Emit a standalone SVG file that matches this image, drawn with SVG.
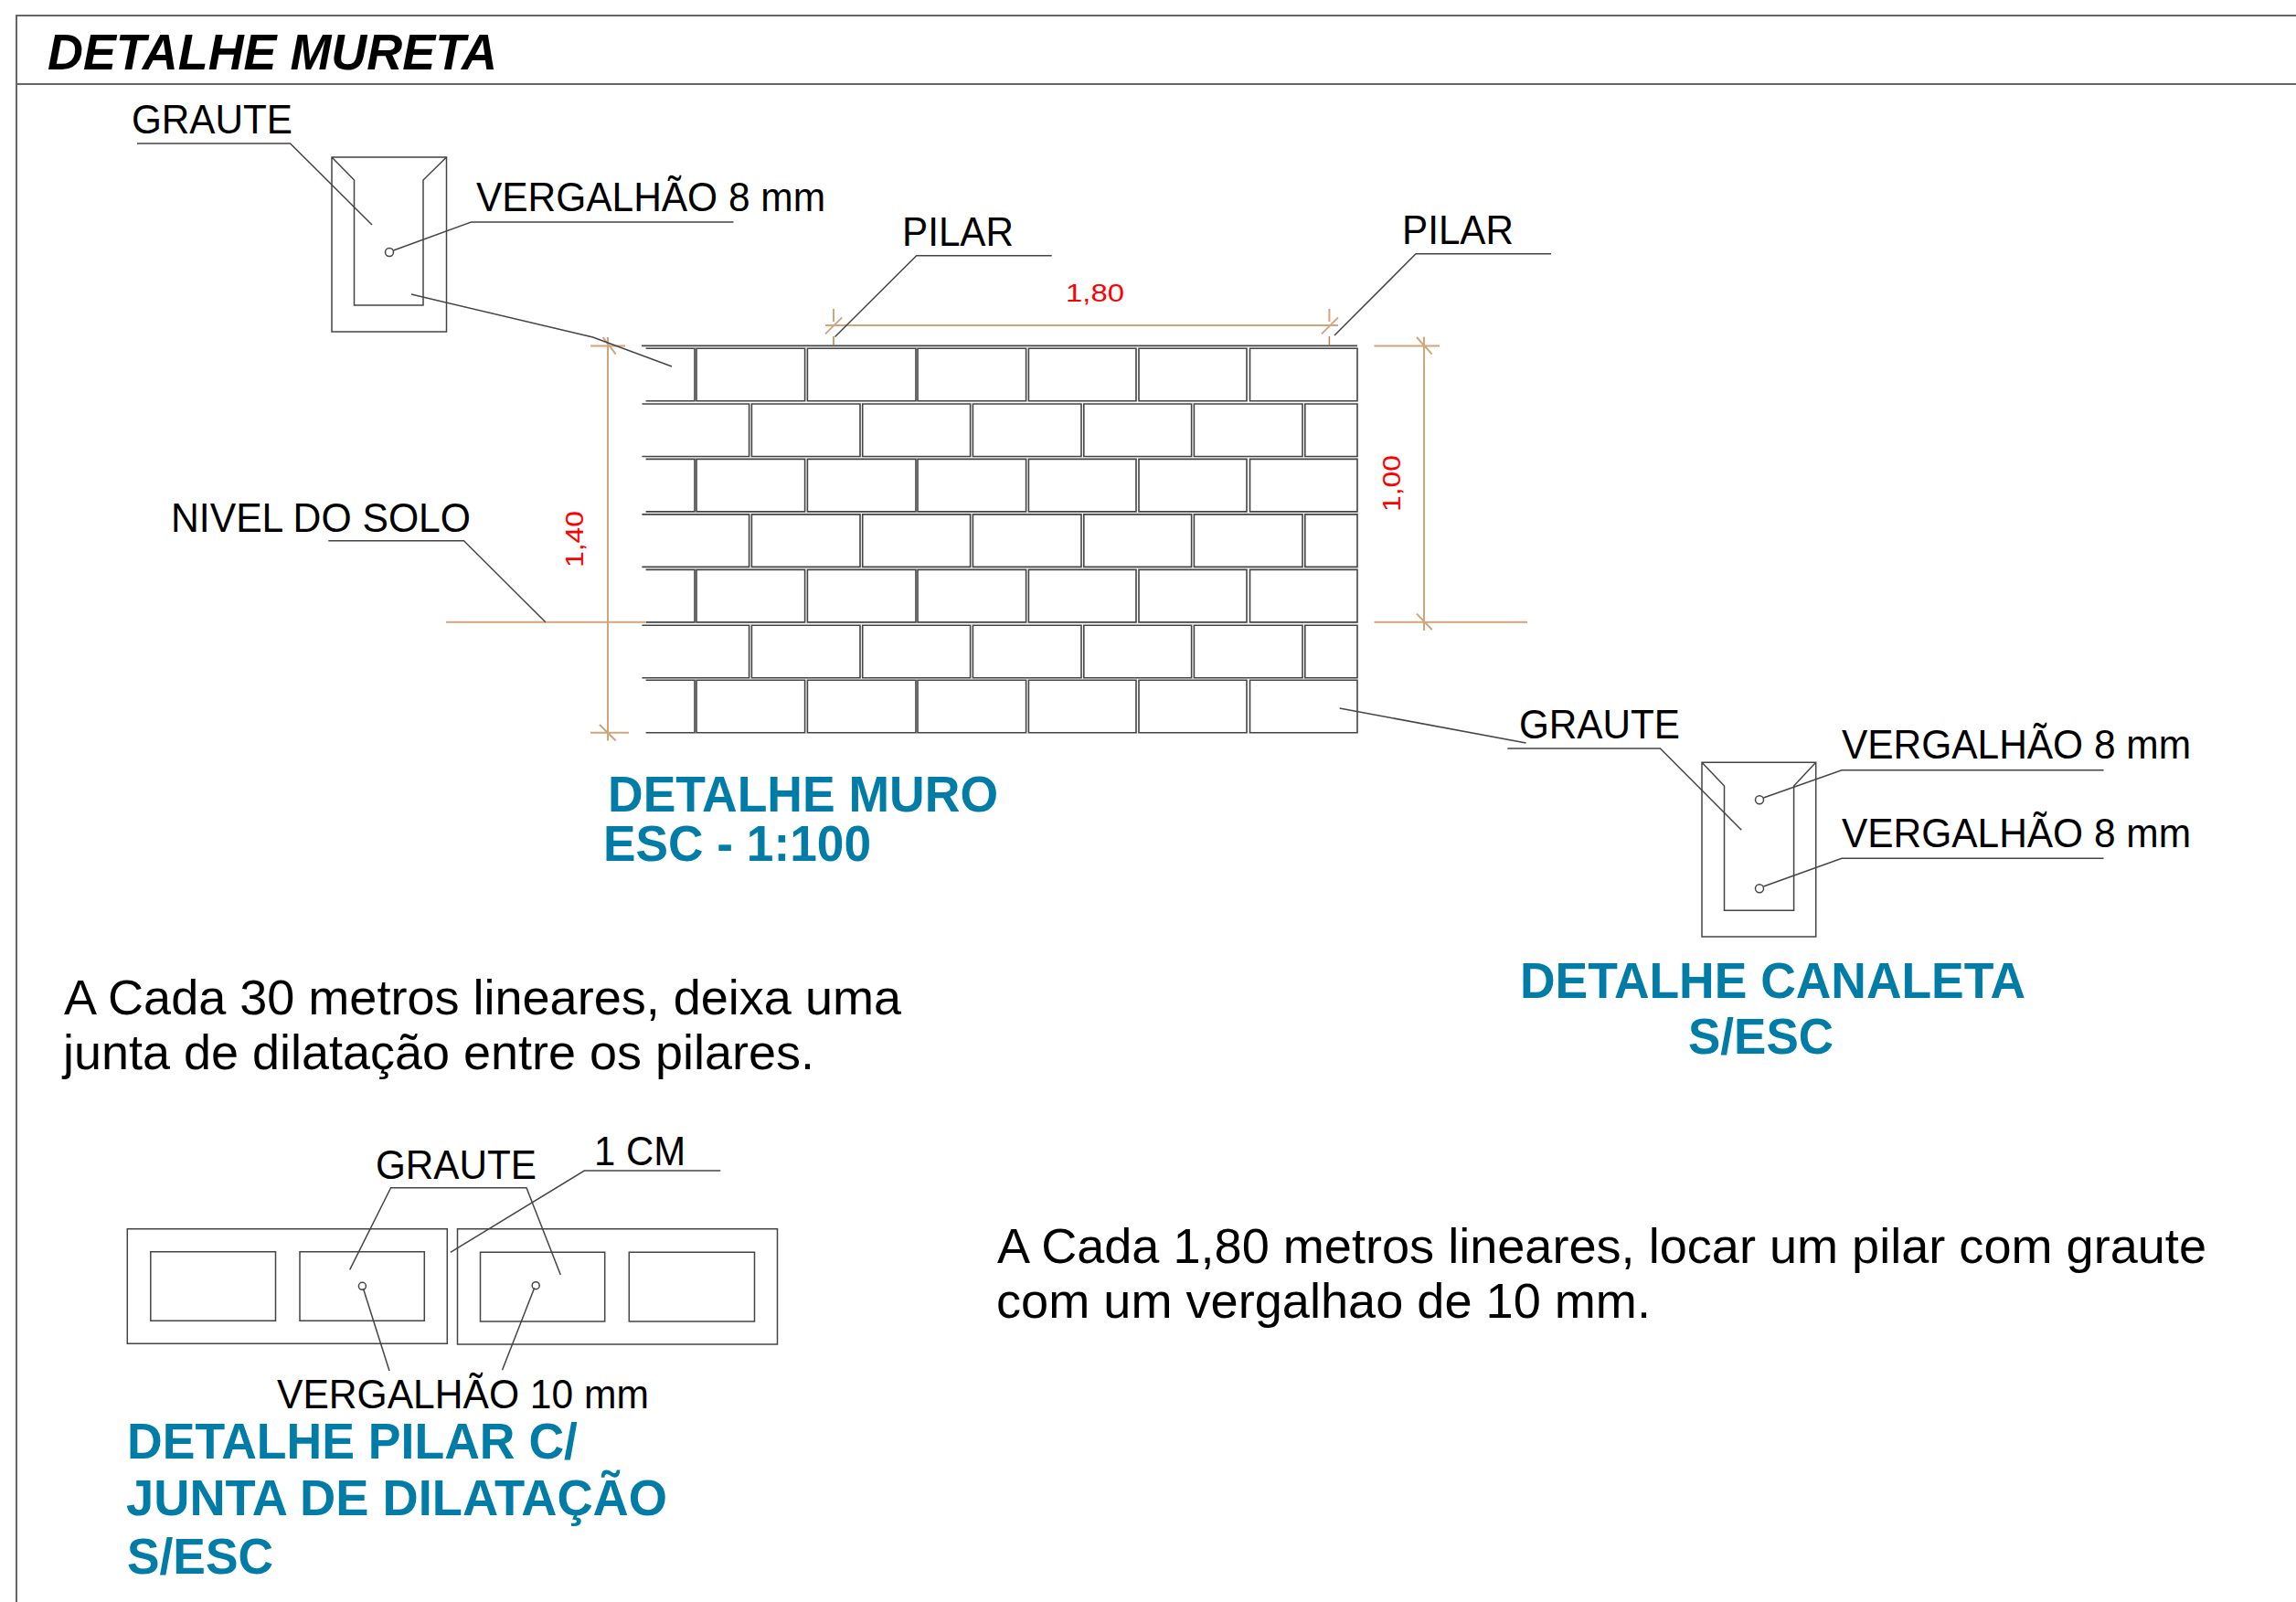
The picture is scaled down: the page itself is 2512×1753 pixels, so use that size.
<svg xmlns="http://www.w3.org/2000/svg" xmlns:xlink="http://www.w3.org/1999/xlink" width="2512" height="1753" viewBox="0 0 2512 1753">
<style>
text{font-family:"Liberation Sans",Arial,sans-serif;fill:#000}
.l{font-size:44px}
.b{font-size:54px}
.t{font-size:55px;font-weight:700;fill:#007ca6}
.d{font-size:27px;fill:#f00}
.h{font-size:56px;font-weight:700;font-style:italic}
.k,.f,.w,.o,.m{fill:none}
.k{stroke:#444;stroke-width:1.5}
.f{stroke:#666;stroke-width:2}
.w{stroke:#444;stroke-width:1.6}
.o{stroke:#cfa67b;stroke-width:2}
.m{stroke:#b97f45;stroke-width:1.5}
</style>
<defs>
<path id="rowA" class="w" d="M706.6 0H760V57.5H706.6M762 0H880.6V57.5H762ZM883.4 0H1002V57.5H883.4ZM1004 0H1122.6V57.5H1004ZM1125.4 0H1243V57.5H1125.4ZM1246 0H1364V57.5H1246ZM1367.5 0H1485V57.5H1367.5Z"/>
<path id="rowB" class="w" d="M702.4 0H819.6V57.5H702.4M822.4 0H941V57.5H822.4ZM943.7 0H1061.6V57.5H943.7ZM1064.4 0H1183V57.5H1064.4ZM1185.8 0H1303.6V57.5H1185.8ZM1306.4 0H1425V57.5H1306.4ZM1427.8 0H1485V57.5H1427.8Z"/>
</defs>
<rect width="2512" height="1753" fill="#fff"/>
<g id="frame">
<path class="f" d="M18 1753V17H2512M18 92H2512"/>
<text class="h" x="52" y="76" textLength="492" lengthAdjust="spacingAndGlyphs">DETALHE MURETA</text>
</g>
<g id="wall">
<path class="w" d="M702 378.4H1485"/>
<use xlink:href="#rowA" y="381.3"/>
<use xlink:href="#rowB" y="442"/>
<use xlink:href="#rowA" y="502.4"/>
<use xlink:href="#rowB" y="562.9"/>
<use xlink:href="#rowA" y="623.4"/>
<use xlink:href="#rowB" y="684.2"/>
<use xlink:href="#rowA" y="744.3"/>
</g>
<g id="dimensions">
<path class="o" d="M903 355.9H1464M903 365.4L921.3 347.4M1446 365.4L1464 347.4M912 338V352M1454.4 338V352"/>
<path class="m" d="M912 368V378M1454.4 368V378"/>
<path class="o" d="M665 369V810.5M646 378.4H684M646 801.7H688M659.6 369L673.7 387.6M656 793L673.7 810.5"/>
<path class="o" d="M1558 368.5V690M1503.5 378.4H1575M1550 369L1566.7 387.6M1550 671.6L1566.7 689"/>
<path class="o" d="M488 680.8H706M1503.5 680.8H1671"/>
<text class="d" x="1166" y="329.5" textLength="64" lengthAdjust="spacingAndGlyphs">1,80</text>
<text class="d" transform="translate(638 621) rotate(-90)" textLength="62" lengthAdjust="spacingAndGlyphs">1,40</text>
<text class="d" transform="translate(1532 560) rotate(-90)" textLength="62" lengthAdjust="spacingAndGlyphs">1,00</text>
</g>
<g id="canaleta-top">
<path class="k" d="M363 172H488.5V363H363ZM363 172L387.5 197V334H463V197L488.5 172"/>
<circle class="k" cx="426" cy="276" r="4.5"/>
<text class="l" x="144" y="146" textLength="176" lengthAdjust="spacingAndGlyphs">GRAUTE</text>
<text class="l" x="521" y="231" textLength="382" lengthAdjust="spacingAndGlyphs">VERGALHÃO 8 mm</text>
</g>
<g id="canaleta-right">
<path class="k" d="M1862 834.3H1986.7V1025H1862ZM1862 834.3L1886.5 860V996.3H1962.6V860L1986.7 834.3"/>
<circle class="k" cx="1925" cy="875.3" r="4.5"/>
<circle class="k" cx="1925" cy="972.3" r="4.5"/>
<text class="l" x="1662" y="807.5" textLength="176" lengthAdjust="spacingAndGlyphs">GRAUTE</text>
<text class="l" x="2015" y="830" textLength="382" lengthAdjust="spacingAndGlyphs">VERGALHÃO 8 mm</text>
<text class="l" x="2015" y="927" textLength="382" lengthAdjust="spacingAndGlyphs">VERGALHÃO 8 mm</text>
</g>
<g id="pilar-detail">
<path class="k" d="M139.3 1344.7H489.3V1470.3H139.3ZM164.8 1369.7H301.5V1445.3H164.8ZM328 1369.7H464.3V1445.3H328ZM500.5 1344.7H850.5V1471H500.5ZM525.5 1370.3H661.7V1446H525.5ZM688.3 1370.3H825.5V1446H688.3Z"/>
<circle class="k" cx="396.4" cy="1407.3" r="4"/>
<circle class="k" cx="586.2" cy="1406.7" r="4"/>
<text class="l" x="411" y="1290" textLength="176" lengthAdjust="spacingAndGlyphs">GRAUTE</text>
<text class="l" x="650" y="1275" textLength="100" lengthAdjust="spacingAndGlyphs">1 CM</text>
<text class="l" x="303" y="1541" textLength="407" lengthAdjust="spacingAndGlyphs">VERGALHÃO 10 mm</text>
</g>
<g id="labels-wall">
<text class="l" x="987" y="268.6" textLength="122" lengthAdjust="spacingAndGlyphs">PILAR</text>
<text class="l" x="1534" y="266.7" textLength="122" lengthAdjust="spacingAndGlyphs">PILAR</text>
<text class="l" x="187" y="582.3" textLength="328" lengthAdjust="spacingAndGlyphs">NIVEL DO SOLO</text>
</g>
<g id="titles">
<text class="t" x="665" y="887.5" textLength="427" lengthAdjust="spacingAndGlyphs">DETALHE MURO</text>
<text class="t" x="660" y="942" textLength="293" lengthAdjust="spacingAndGlyphs">ESC - 1:100</text>
<text class="t" x="1663" y="1092" textLength="553" lengthAdjust="spacingAndGlyphs">DETALHE CANALETA</text>
<text class="t" x="1847" y="1152.5" textLength="159" lengthAdjust="spacingAndGlyphs">S/ESC</text>
<text class="t" x="139" y="1595.5" textLength="493" lengthAdjust="spacingAndGlyphs">DETALHE PILAR C/</text>
<text class="t" x="138" y="1658" textLength="592" lengthAdjust="spacingAndGlyphs">JUNTA DE DILATAÇÃO</text>
<text class="t" x="139" y="1721.5" textLength="160" lengthAdjust="spacingAndGlyphs">S/ESC</text>
</g>
<g id="notes">
<text class="b" x="70" y="1110" textLength="916" lengthAdjust="spacingAndGlyphs">A Cada 30 metros lineares, deixa uma</text>
<text class="b" x="69" y="1170" textLength="822" lengthAdjust="spacingAndGlyphs">junta de dilatação entre os pilares.</text>
<text class="b" x="1091" y="1381.7" textLength="1323" lengthAdjust="spacingAndGlyphs">A Cada 1,80 metros lineares, locar um pilar com graute</text>
<text class="b" x="1090" y="1441.7" textLength="716" lengthAdjust="spacingAndGlyphs">com um vergalhao de 10 mm.</text>
</g>
<g id="connectors">
<path class="k" d="M150 157H317.5L407 246M802.5 243H515.5L430.5 274M450 322L648.7 369L735 401"/>
<path class="k" d="M1150.7 279.7H1002.7L913.6 368.5M1697 277.8H1549L1460 367"/>
<path class="k" d="M359.3 591.7H507.5L596.8 680.7"/>
<path class="k" d="M1465.7 775L1669.6 813M1649.3 819H1816.4L1905.3 908.3M2301.6 842.7H2015L1929.4 873M2301.6 939.3H2015L1929.4 970"/>
<path class="k" d="M382.7 1389.3L427.6 1299.7H576L613.3 1395M492.9 1370.3L639.3 1281H788.3M397.4 1410L426 1500M584.7 1409.3L549.5 1499.3"/>
</g>
</svg>
